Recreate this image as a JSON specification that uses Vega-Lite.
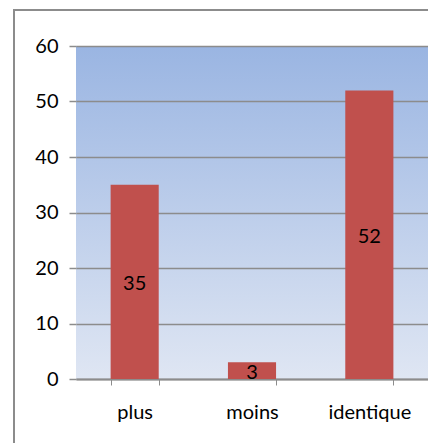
{
  "$schema": "https://vega.github.io/schema/vega-lite/v6.json",
  "width": 352,
  "height": 333,
  "autosize": {"type": "none"},
  "padding": {"left": 76, "top": 46, "right": 0, "bottom": 64},
  "background": "white",
  "config": {
    "font": "Lato",
    "view": {
      "stroke": null,
      "fill": {
        "gradient": "linear",
        "x1": 0, "y1": 0, "x2": 0, "y2": 1,
        "stops": [
          {"offset": 0, "color": "#9ab5e2"},
          {"offset": 1, "color": "#dfe6f3"}
        ]
      }
    }
  },
  "data": {
    "values": [
      {"categorie": "plus", "valeur": 35},
      {"categorie": "moins", "valeur": 3},
      {"categorie": "identique", "valeur": 52}
    ]
  },
  "resolve": {"scale": {"y": "independent"}, "axis": {"y": "independent"}},
  "layer": [
    {
      "mark": {"type": "rect", "fill": null, "stroke": "#8c8c8c", "strokeWidth": 2, "clip": false},
      "encoding": {
        "x": {"value": -62},
        "x2": {"value": 420},
        "y": {"value": -36},
        "y2": {"value": 430}
      }
    },
    {
      "mark": {"type": "bar", "color": "#c0504d"},
      "encoding": {
        "x": {
          "field": "categorie",
          "type": "nominal",
          "sort": null,
          "scale": {"paddingInner": 0.59, "paddingOuter": 0.295},
          "axis": {
            "title": null,
            "labelAngle": 0,
            "labelFontSize": 20,
            "labelColor": "#000000",
            "labelPadding": 17,
            "domainColor": "#8c8c8c",
            "domainWidth": 2,
            "tickColor": "#8c8c8c",
            "tickSize": 6,
            "tickBand": "extent",
            "grid": false
          }
        },
        "y": {
          "field": "valeur",
          "type": "quantitative",
          "scale": {"domain": [0, 60], "nice": false},
          "axis": {
            "title": null,
            "values": [0, 10, 20, 30, 40, 50, 60],
            "labelFontSize": 20,
            "labelColor": "#000000",
            "labelPadding": 11,
            "domain": false,
            "tickColor": "#8c8c8c",
            "tickSize": 7,
            "tickWidth": 1.5,
            "gridColor": "#8c8c8c",
            "gridWidth": 1.5,
            "gridOpacity": 1
          }
        }
      }
    },
    {
      "mark": {"type": "text", "fontSize": 20, "color": "#000000", "baseline": "middle", "dy": 2},
      "encoding": {
        "x": {"field": "categorie", "type": "nominal", "sort": null},
        "y": {"field": "valeur", "type": "quantitative", "scale": {"domain": [0, 120], "nice": false}, "axis": null},
        "text": {"field": "valeur", "type": "quantitative"}
      }
    }
  ]
}
